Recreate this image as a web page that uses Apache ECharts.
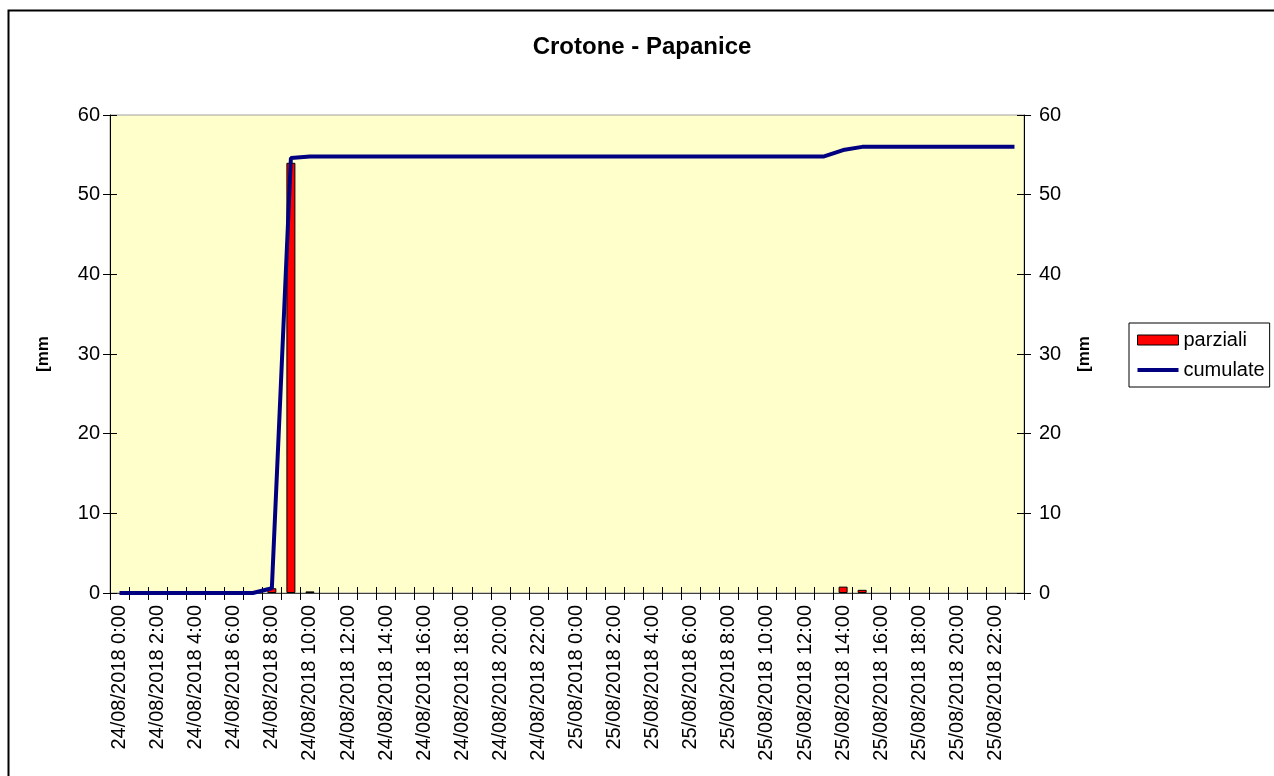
<!DOCTYPE html>
<html>
<head>
<meta charset="utf-8">
<script src="https://cdn.jsdelivr.net/npm/echarts@6/dist/echarts.min.js"></script>
<style>
html,body{margin:0;padding:0;background:#fff;}
#c{width:1274px;height:776px;}
</style>
</head>
<body>
<div id="c"></div>
<script>
// ---- data ----
const days = ['24/08/2018', '25/08/2018'];
const hours = ['0:00','1:00','2:00','3:00','4:00','5:00','6:00','7:00','8:00','9:00','10:00','11:00',
               '12:00','13:00','14:00','15:00','16:00','17:00','18:00','19:00','20:00','21:00','22:00','23:00'];
const categories = [];
days.forEach(d => hours.forEach(h => categories.push(d + ' ' + h)));

const parziali = [
  0,0,0,0,0,0,0,0,0.6,54.0,0.2,0,0,0,0,0,0,0,0,0,0,0,0,0,
  0,0,0,0,0,0,0,0,0,0,0,0,0,0,0.8,0.4,0,0,0,0,0,0,0,0
];
const cumulate = [
  0,0,0,0,0,0,0,0,0.6,54.6,54.8,54.8,54.8,54.8,54.8,54.8,54.8,54.8,54.8,54.8,54.8,54.8,54.8,54.8,
  54.8,54.8,54.8,54.8,54.8,54.8,54.8,54.8,54.8,54.8,54.8,54.8,54.8,54.8,55.6,56.0,56.0,56.0,56.0,56.0,56.0,56.0,56.0,56.0
];
const yTicks = { min: 0, max: 60, interval: 10 };
const titleText = 'Crotone - Papanice';
const unitText = '[mm';

// ---- chart ----
const FONT = "'Liberation Sans', Arial, sans-serif";
const chart = echarts.init(document.getElementById('c'), null, { renderer: 'canvas' });

function yAx(pos, labels) {
  return {
    type: 'value', position: pos,
    min: yTicks.min, max: yTicks.max, interval: yTicks.interval,
    name: labels ? unitText : '',
    nameLocation: 'middle', nameRotate: 90,
    nameGap: pos === 'left' ? 58 : 52,
    nameTextStyle: { fontFamily: FONT, fontSize: 17, fontWeight: 'bold', color: '#000' },
    axisLine: { show: labels, lineStyle: { color: '#000', width: 1 } },
    axisTick: { show: true, inside: !labels, length: 7, lineStyle: { color: '#000' } },
    axisLabel: { show: labels, fontFamily: FONT, fontSize: 20, color: '#000', margin: pos === 'left' ? 10 : 15 },
    splitLine: { show: false }
  };
}

const option = {
  animation: false,
  backgroundColor: '#fff',
  grid: {
    left: 110, right: 250, top: 115, bottom: 183,
    show: true, backgroundColor: '#FFFFCC', borderColor: '#A0A0A0', borderWidth: 1
  },
  legend: {
    orient: 'vertical', left: 1129, top: 323,
    backgroundColor: '#fff',
    borderColor: '#000', borderWidth: 1,
    padding: [7, 5, 7, 8],
    itemWidth: 41, itemHeight: 10, itemGap: 10,
    textStyle: { fontFamily: FONT, fontSize: 20, color: '#000', lineHeight: 20 },
    data: [
      { name: 'parziali', icon: 'rect', itemStyle: { color: '#FF0000', borderColor: '#000', borderWidth: 1 } },
      { name: 'cumulate', icon: 'path://M0,0h41v4h-41z', itemStyle: { color: '#000080', borderWidth: 0 } }
    ]
  },
  xAxis: [
    {
      type: 'category', data: categories, position: 'bottom', boundaryGap: true,
      axisLine: { show: true, onZero: false, lineStyle: { color: '#404040', width: 1 } },
      axisTick: { show: true, interval: 0, length: 7, lineStyle: { color: '#000' } },
      axisLabel: { interval: 1, rotate: 90, fontFamily: FONT, fontSize: 20, color: '#000', margin: 12 },
      splitLine: { show: false }
    },
    {
      type: 'category', data: categories, position: 'bottom', boundaryGap: true,
      axisLine: { show: false, onZero: false },
      axisTick: { show: true, inside: true, interval: 0, length: 6, lineStyle: { color: '#000' } },
      axisLabel: { show: false },
      splitLine: { show: false }
    }
  ],
  yAxis: [yAx('left', true), yAx('right', true), yAx('left', false), yAx('right', false)],
  series: [
    {
      name: 'parziali', type: 'bar', xAxisIndex: 0, yAxisIndex: 0,
      data: parziali.map(v => (v === 0 ? '-' : v)), barWidth: 9,
      itemStyle: { color: '#FF0000', borderColor: '#000', borderWidth: 1 },
      z: 2
    },
    {
      name: 'cumulate', type: 'line', xAxisIndex: 0, yAxisIndex: 1,
      data: cumulate, symbol: 'none', showSymbol: false,
      lineStyle: { color: '#000080', width: 4 },
      itemStyle: { color: '#000080' },
      z: 3
    }
  ],
  graphic: [
    {
      type: 'rect', left: 6, top: 8, silent: true,
      shape: { width: 1267, height: 790 },
      style: { fill: 'none', stroke: '#000', lineWidth: 2 }
    },
    {
      type: 'text', x: 642, y: 47, silent: true,
      style: {
        text: titleText, fontFamily: FONT, fontSize: 24, fontWeight: 'bold',
        fill: '#000', align: 'center', verticalAlign: 'middle'
      }
    }
  ]
};
chart.setOption(option);
</script>
</body>
</html>
